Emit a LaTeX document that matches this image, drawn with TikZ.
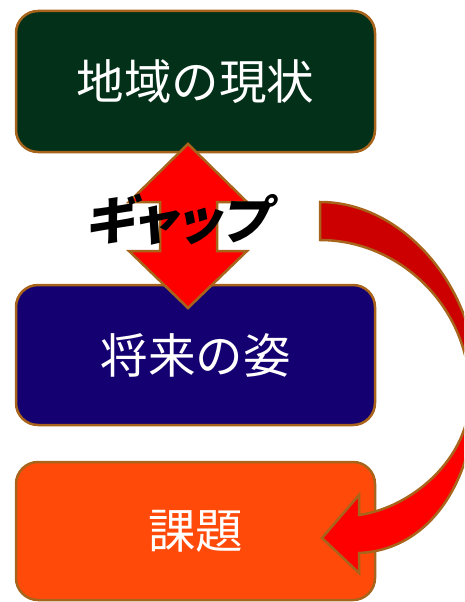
\documentclass[tikz,border=0pt]{standalone}
\usepackage{fontspec}
\newfontfamily\jp{Noto Sans CJK JP}
\newfontfamily\jpslant[FakeSlant=0.2,RawFeature=+palt]{Noto Sans CJK JP}
\definecolor{edge}{HTML}{A8641A}
\definecolor{gA}{HTML}{033019}
\definecolor{bB}{HTML}{140070}
\definecolor{oC}{HTML}{FF4A0A}
\definecolor{redA}{HTML}{FF0000}
\definecolor{redD}{HTML}{CC0000}
\def\carrowpath{(320,202) .. controls (405,202) and (476,290) .. (476,380)
  .. controls (478,480) and (430,550) .. (359,553)
  -- (359,573) -- (322,538) -- (359,495) -- (359,515)
  .. controls (410,508) and (470,460) .. (470,395)
  .. controls (470,305) and (398,240) .. (320,240) -- cycle}
\begin{document}
\begin{tikzpicture}[x=1pt,y=-1pt,
  box/.style={draw=edge, line width=2.5pt, rounded corners=22pt,
    minimum width=359pt, text=white, font=\jp\fontsize{47.5}{55}\selectfont},
  blockarrow/.style={draw=edge, line width=2.5pt, line join=miter}]
\useasboundingbox (0,0) rectangle (464,602);
\clip (0,0) rectangle (464,602);
\node[box, fill=gA, minimum height=141pt] (a) at (195.5,81.5) {地域の現状};
\node[box, fill=bB, minimum height=140pt] (b) at (195.5,355) {将来の姿};
\node[box, fill=oC, minimum height=138pt] (c) at (195.5,531) {課題};
% double arrow (gap)
\draw[blockarrow, fill=redA] (188,144) -- (247,202) -- (217,202) -- (217,251) -- (247,251)
  -- (188,308) -- (129,251) -- (160,251) -- (160,202) -- (129,202) -- cycle;
\node[font=\jpslant\bfseries\fontsize{52}{58}\selectfont, text=black, inner sep=0pt] (g) at (177,220) {ギャップ};
% curved arrow
\fill[redA] \carrowpath;
\begin{scope}
\clip (300,150) rectangle (500,390);
\fill[redD] \carrowpath;
\end{scope}
\draw[blockarrow] \carrowpath;
\end{tikzpicture}
\end{document}
